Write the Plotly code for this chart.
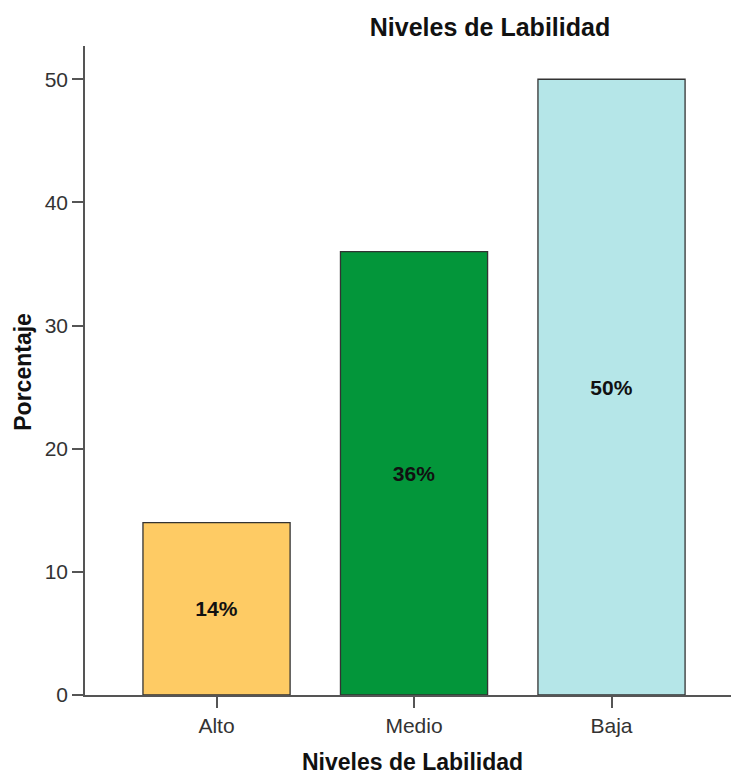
import plotly.graph_objects as go

# Percentage of cases by lability level
categories = ["Alto", "Medio", "Baja"]
percentages = [14, 36, 50]
bar_colors = ["#FECB64", "#03963A", "#B5E6E8"]
y_ticks = [0, 10, 20, 30, 40, 50]

W, H = 731, 774
L, R, T, B = 85, 0, 46, 78.5
plot_w = W - L - R
plot_h = H - T - B

font = "Liberation Sans, Arial, sans-serif"

fig = go.Figure(
    go.Bar(
        x=list(range(len(categories))),
        y=percentages,
        width=0.745,
        marker=dict(color=bar_colors, line=dict(color="#333333", width=1.3)),
        text=[f"{v:.0f}%" for v in percentages],
        textposition="inside",
        insidetextanchor="middle",
        textangle=0,
        textfont=dict(family=font, size=21, color="#111111", weight="bold"),
        cliponaxis=False,
        hoverinfo="skip",
    )
)

fig.update_layout(
    width=W,
    height=H,
    margin=dict(l=L, r=R, t=T, b=B),
    paper_bgcolor="white",
    plot_bgcolor="white",
    showlegend=False,
    font=dict(family=font, color="#333333"),
    title=dict(
        text="<b>Niveles de Labilidad</b>",
        x=490 / W,
        xref="container",
        xanchor="center",
        y=1 - 27 / H,
        yref="container",
        yanchor="middle",
        font=dict(family=font, size=25, color="#111111"),
    ),
    xaxis=dict(
        range=[-0.666, 2.605],
        tickmode="array",
        tickvals=list(range(len(categories))),
        ticktext=categories,
        showgrid=False,
        zeroline=False,
        showline=True,
        linecolor="#555555",
        linewidth=1.5,
        ticks="outside",
        ticklen=11,
        tickwidth=1.5,
        tickcolor="#555555",
        tickfont=dict(family=font, size=21, color="#333333"),
        fixedrange=True,
    ),
    yaxis=dict(
        range=[0, 52.7],
        tickmode="array",
        tickvals=y_ticks,
        showgrid=False,
        zeroline=False,
        showline=True,
        linecolor="#555555",
        linewidth=1.5,
        ticks="outside",
        ticklen=11,
        tickwidth=1.5,
        tickcolor="#555555",
        tickfont=dict(family=font, size=21, color="#333333"),
        ticklabelstandoff=0,
        fixedrange=True,
    ),
    annotations=[
        dict(
            text="<b>Porcentaje</b>",
            xref="paper",
            yref="paper",
            x=(23 - L) / plot_w,
            y=(H - B - 372) / plot_h,
            xanchor="center",
            yanchor="middle",
            textangle=-90,
            showarrow=False,
            font=dict(family=font, size=23, color="#111111"),
        ),
        dict(
            text="<b>Niveles de Labilidad</b>",
            xref="paper",
            yref="paper",
            x=(412 - L) / plot_w,
            y=(H - B - 763) / plot_h,
            xanchor="center",
            yanchor="middle",
            showarrow=False,
            font=dict(family=font, size=23, color="#111111"),
        ),
    ],
)

fig.write_html("out.html")
